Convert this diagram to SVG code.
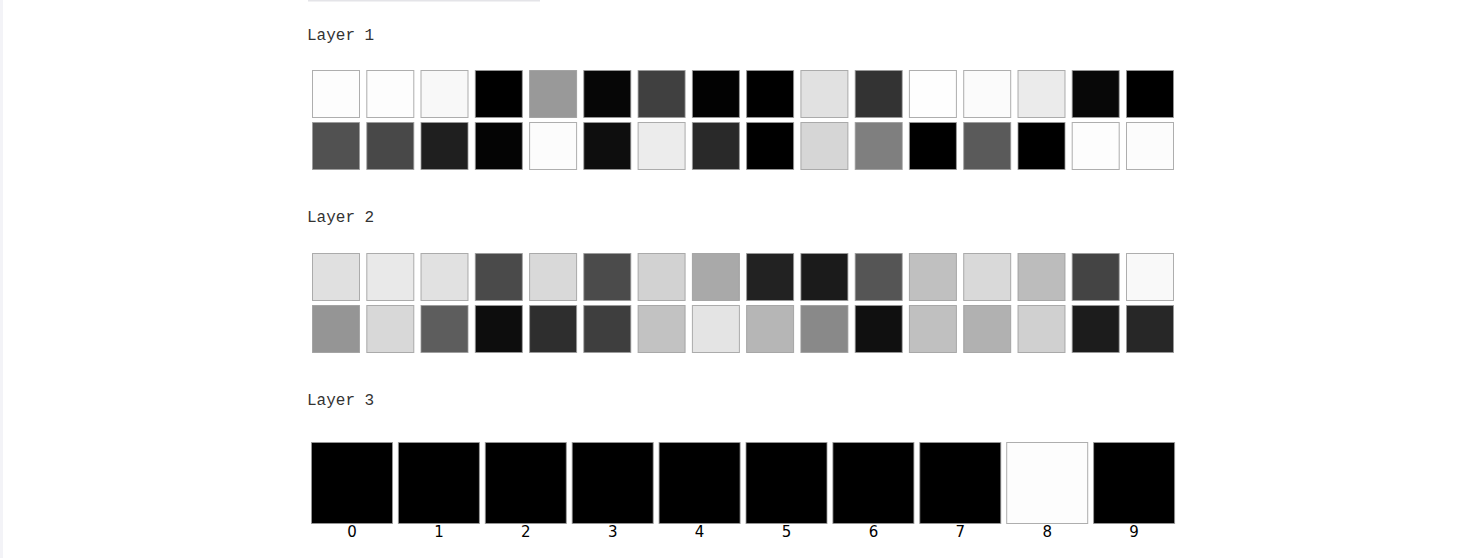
<svg xmlns="http://www.w3.org/2000/svg" width="1462" height="558" viewBox="0 0 1462 558">
<style>
.bg{fill:#ffffff}
.lbl{font-family:"Liberation Mono","DejaVu Sans Mono",monospace;font-size:16px;fill:#333333}
.c{stroke:#9a9a9a;stroke-width:1;stroke-opacity:0.8}
.big{stroke:#9a9a9a;stroke-width:1;stroke-opacity:0.8}
.num{font-family:"DejaVu Sans","Liberation Sans",sans-serif;font-size:15px;fill:#000000;text-anchor:middle}
</style>
<rect class="bg" x="0" y="0" width="1462" height="558"/>
<rect x="0" y="0" width="3" height="558" fill="#f3f3f7"/>
<rect x="308" y="0" width="232" height="1.5" fill="#e4e4e8"/>

<g id="layer1">
<text class="lbl" x="307" y="39.5">Layer 1</text>
<g id="layer1-row1">
<rect class="c" x="312.5" y="70.5" width="47" height="47" fill="#fdfdfd"/>
<rect class="c" x="366.8" y="70.5" width="47" height="47" fill="#fdfdfd"/>
<rect class="c" x="421.0" y="70.5" width="47" height="47" fill="#f8f8f8"/>
<rect class="c" x="475.3" y="70.5" width="47" height="47" fill="#000000"/>
<rect class="c" x="529.6" y="70.5" width="47" height="47" fill="#999999"/>
<rect class="c" x="583.8" y="70.5" width="47" height="47" fill="#060606"/>
<rect class="c" x="638.1" y="70.5" width="47" height="47" fill="#404040"/>
<rect class="c" x="692.4" y="70.5" width="47" height="47" fill="#020202"/>
<rect class="c" x="746.6" y="70.5" width="47" height="47" fill="#000000"/>
<rect class="c" x="800.9" y="70.5" width="47" height="47" fill="#e1e1e1"/>
<rect class="c" x="855.2" y="70.5" width="47" height="47" fill="#333333"/>
<rect class="c" x="909.4" y="70.5" width="47" height="47" fill="#fefefe"/>
<rect class="c" x="963.7" y="70.5" width="47" height="47" fill="#fbfbfb"/>
<rect class="c" x="1018.0" y="70.5" width="47" height="47" fill="#ebebeb"/>
<rect class="c" x="1072.2" y="70.5" width="47" height="47" fill="#080808"/>
<rect class="c" x="1126.5" y="70.5" width="47" height="47" fill="#000000"/>
</g>
<g id="layer1-row2">
<rect class="c" x="312.5" y="122.5" width="47" height="47" fill="#515151"/>
<rect class="c" x="366.8" y="122.5" width="47" height="47" fill="#484848"/>
<rect class="c" x="421.0" y="122.5" width="47" height="47" fill="#1f1f1f"/>
<rect class="c" x="475.3" y="122.5" width="47" height="47" fill="#040404"/>
<rect class="c" x="529.6" y="122.5" width="47" height="47" fill="#fcfcfc"/>
<rect class="c" x="583.8" y="122.5" width="47" height="47" fill="#0e0e0e"/>
<rect class="c" x="638.1" y="122.5" width="47" height="47" fill="#ececec"/>
<rect class="c" x="692.4" y="122.5" width="47" height="47" fill="#292929"/>
<rect class="c" x="746.6" y="122.5" width="47" height="47" fill="#000000"/>
<rect class="c" x="800.9" y="122.5" width="47" height="47" fill="#d6d6d6"/>
<rect class="c" x="855.2" y="122.5" width="47" height="47" fill="#7f7f7f"/>
<rect class="c" x="909.4" y="122.5" width="47" height="47" fill="#000000"/>
<rect class="c" x="963.7" y="122.5" width="47" height="47" fill="#5a5a5a"/>
<rect class="c" x="1018.0" y="122.5" width="47" height="47" fill="#000000"/>
<rect class="c" x="1072.2" y="122.5" width="47" height="47" fill="#fdfdfd"/>
<rect class="c" x="1126.5" y="122.5" width="47" height="47" fill="#fcfcfc"/>
</g>
</g>

<g id="layer2">
<text class="lbl" x="307" y="221.5">Layer 2</text>
<g id="layer2-row1">
<rect class="c" x="312.5" y="253.5" width="47" height="47" fill="#e0e0e0"/>
<rect class="c" x="366.8" y="253.5" width="47" height="47" fill="#e9e9e9"/>
<rect class="c" x="421.0" y="253.5" width="47" height="47" fill="#e1e1e1"/>
<rect class="c" x="475.3" y="253.5" width="47" height="47" fill="#4a4a4a"/>
<rect class="c" x="529.6" y="253.5" width="47" height="47" fill="#d9d9d9"/>
<rect class="c" x="583.8" y="253.5" width="47" height="47" fill="#4b4b4b"/>
<rect class="c" x="638.1" y="253.5" width="47" height="47" fill="#d2d2d2"/>
<rect class="c" x="692.4" y="253.5" width="47" height="47" fill="#a9a9a9"/>
<rect class="c" x="746.6" y="253.5" width="47" height="47" fill="#222222"/>
<rect class="c" x="800.9" y="253.5" width="47" height="47" fill="#1b1b1b"/>
<rect class="c" x="855.2" y="253.5" width="47" height="47" fill="#555555"/>
<rect class="c" x="909.4" y="253.5" width="47" height="47" fill="#c0c0c0"/>
<rect class="c" x="963.7" y="253.5" width="47" height="47" fill="#d9d9d9"/>
<rect class="c" x="1018.0" y="253.5" width="47" height="47" fill="#bcbcbc"/>
<rect class="c" x="1072.2" y="253.5" width="47" height="47" fill="#444444"/>
<rect class="c" x="1126.5" y="253.5" width="47" height="47" fill="#f9f9f9"/>
</g>
<g id="layer2-row2">
<rect class="c" x="312.5" y="305.5" width="47" height="47" fill="#959595"/>
<rect class="c" x="366.8" y="305.5" width="47" height="47" fill="#d8d8d8"/>
<rect class="c" x="421.0" y="305.5" width="47" height="47" fill="#5d5d5d"/>
<rect class="c" x="475.3" y="305.5" width="47" height="47" fill="#0d0d0d"/>
<rect class="c" x="529.6" y="305.5" width="47" height="47" fill="#2e2e2e"/>
<rect class="c" x="583.8" y="305.5" width="47" height="47" fill="#3e3e3e"/>
<rect class="c" x="638.1" y="305.5" width="47" height="47" fill="#c2c2c2"/>
<rect class="c" x="692.4" y="305.5" width="47" height="47" fill="#e4e4e4"/>
<rect class="c" x="746.6" y="305.5" width="47" height="47" fill="#b6b6b6"/>
<rect class="c" x="800.9" y="305.5" width="47" height="47" fill="#898989"/>
<rect class="c" x="855.2" y="305.5" width="47" height="47" fill="#101010"/>
<rect class="c" x="909.4" y="305.5" width="47" height="47" fill="#c0c0c0"/>
<rect class="c" x="963.7" y="305.5" width="47" height="47" fill="#b1b1b1"/>
<rect class="c" x="1018.0" y="305.5" width="47" height="47" fill="#d0d0d0"/>
<rect class="c" x="1072.2" y="305.5" width="47" height="47" fill="#1c1c1c"/>
<rect class="c" x="1126.5" y="305.5" width="47" height="47" fill="#272727"/>
</g>
</g>

<g id="layer3">
<text class="lbl" x="307" y="404.5">Layer 3</text>
<g id="out0"><rect class="big" x="311.5" y="442.5" width="81" height="81" fill="#000000"/><text class="num" x="352" y="537">0</text></g>
<g id="out1"><rect class="big" x="398.4" y="442.5" width="81" height="81" fill="#000000"/><text class="num" x="438.9" y="537">1</text></g>
<g id="out2"><rect class="big" x="485.3" y="442.5" width="81" height="81" fill="#000000"/><text class="num" x="525.8" y="537">2</text></g>
<g id="out3"><rect class="big" x="572.2" y="442.5" width="81" height="81" fill="#000000"/><text class="num" x="612.7" y="537">3</text></g>
<g id="out4"><rect class="big" x="659.1" y="442.5" width="81" height="81" fill="#000000"/><text class="num" x="699.6" y="537">4</text></g>
<g id="out5"><rect class="big" x="746.0" y="442.5" width="81" height="81" fill="#000000"/><text class="num" x="786.5" y="537">5</text></g>
<g id="out6"><rect class="big" x="832.9" y="442.5" width="81" height="81" fill="#000000"/><text class="num" x="873.4" y="537">6</text></g>
<g id="out7"><rect class="big" x="919.8" y="442.5" width="81" height="81" fill="#000000"/><text class="num" x="960.3" y="537">7</text></g>
<g id="out8"><rect class="big" x="1006.7" y="442.5" width="81" height="81" fill="#fdfdfd"/><text class="num" x="1047.2" y="537">8</text></g>
<g id="out9"><rect class="big" x="1093.6" y="442.5" width="81" height="81" fill="#000000"/><text class="num" x="1134.1" y="537">9</text></g>
</g>
<g id="connectors"/>
</svg>
